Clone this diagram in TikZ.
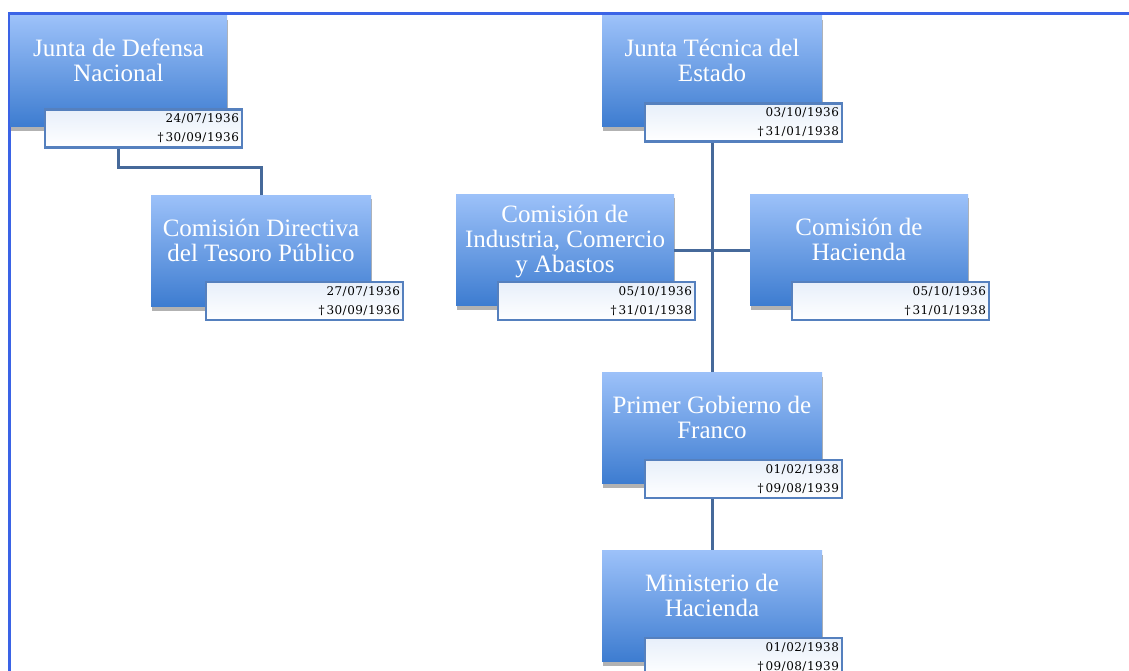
\documentclass[tikz,border=0pt]{standalone}
\usepackage{fontspec}
\setmainfont{Liberation Serif}
\newfontfamily\fechafam[LetterSpace=4]{DejaVu Serif}
\usetikzlibrary{shadows,positioning}
\definecolor{cajaArriba}{HTML}{9CC1F9}
\definecolor{cajaAbajo}{HTML}{3D7CD0}
\definecolor{fechaArriba}{HTML}{E7EFFA}
\definecolor{bordeFecha}{HTML}{5580BE}
\definecolor{lineaCon}{HTML}{46699A}
\definecolor{marco}{HTML}{3A63E6}

\begin{document}
\begin{tikzpicture}[x=1pt, y=-1pt,
  caja/.style={rectangle, minimum width=220pt, minimum height=111pt, inner sep=2pt, top color=cajaArriba, bottom color=cajaAbajo, text=white, align=center, font=\fontsize{25}{25}\selectfont, text depth=22pt, drop shadow={shadow xshift=1pt, shadow yshift=-4pt, opacity=.3, fill=black}},
  fecha/.style={rectangle, anchor=north east, draw=bordeFecha, line width=2.4pt, top color=fechaArriba, bottom color=white, minimum width=197pt, minimum height=38pt, inner xsep=1pt, text width=191pt, align=right, font=\fechafam\fontsize{12}{19}\selectfont},
  conector/.style={draw=lineaCon, line width=3pt}]
\useasboundingbox (0,0) rectangle (1129,671);
\fill[white] (0,0) rectangle (1129,671);
\clip (0,0) rectangle (1129,671);
\draw[marco, line width=3pt] (9,671) -- (9,14) -- (1129,14);
\node[caja, minimum width=217pt] (jdn) at (118.5,71.5) {Junta de Defensa\\Nacional};
\node[caja] (cdtp) at (261,251) {Comisión Directiva\\del Tesoro Público};
\node[caja] (jte) at (712,71.5) {Junta Técnica del\\Estado};
\node[caja, minimum width=218pt] (cica) at (565,250) {Comisión de\\Industria, Comercio\\y Abastos};
\node[caja, minimum width=218pt] (ch) at (859,250) {Comisión de\\Hacienda};
\node[caja] (pgf) at (712,428) {Primer Gobierno de\\Franco};
\node[caja] (mh) at (712,606) {Ministerio de\\Hacienda};
\draw[conector] (jdn.south) -- ++(0,40) -| (cdtp.north);
\draw[conector] (jte.south) -- (pgf.north);
\draw[conector] (cica.east) -- (ch.west);
\draw[conector] (pgf.south) -- (mh.north);
\node[fecha] (jdnf) at ([shift={(16,-19)}]jdn.south east) {24/07/1936\\†\,30/09/1936};
\node[fecha] (cdtpf) at ([shift={(33,-26)}]cdtp.south east) {27/07/1936\\†\,30/09/1936};
\node[fecha] (jtef) at ([shift={(21,-25)}]jte.south east) {03/10/1936\\†\,31/01/1938};
\node[fecha] (cicaf) at ([shift={(22,-25)}]cica.south east) {05/10/1936\\†\,31/01/1938};
\node[fecha] (chf) at ([shift={(22,-25)}]ch.south east) {05/10/1936\\†\,31/01/1938};
\node[fecha] (pgff) at ([shift={(21,-25)}]pgf.south east) {01/02/1938\\†\,09/08/1939};
\node[fecha] (mhf) at ([shift={(21,-25)}]mh.south east) {01/02/1938\\†\,09/08/1939};
\end{tikzpicture}
\end{document}
